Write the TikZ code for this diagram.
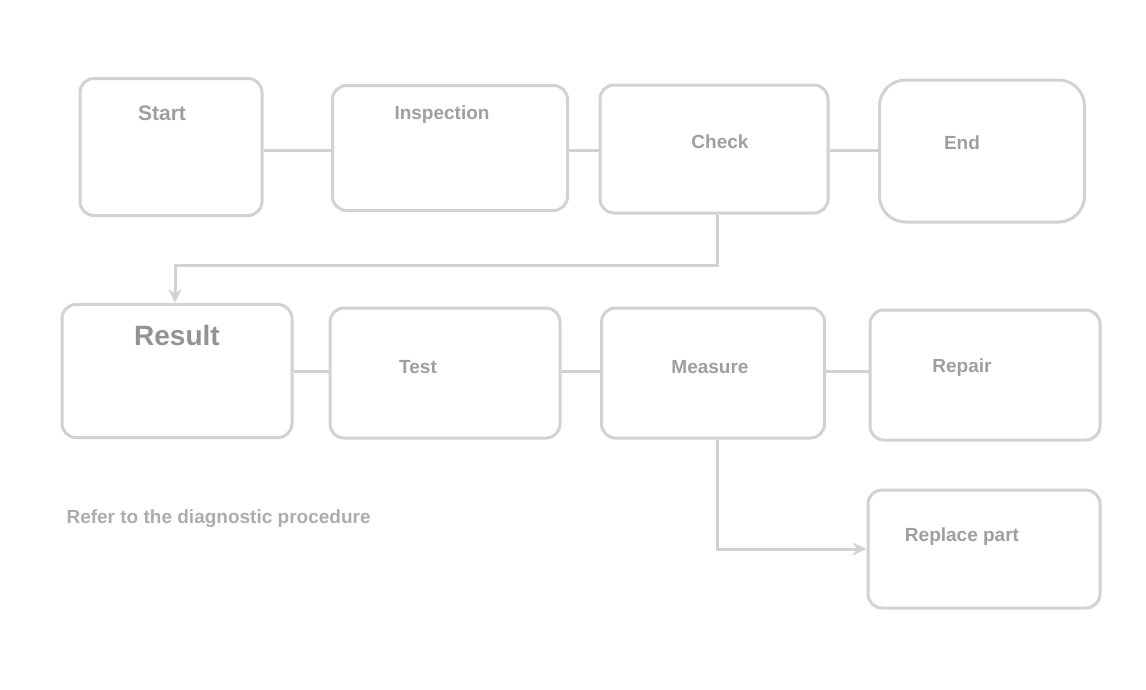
\documentclass[tikz,border=0pt]{standalone}
\usepackage{fontspec}
\setmainfont{Liberation Sans}
\usetikzlibrary{arrows.meta,positioning}
\begin{document}
\begin{tikzpicture}[x=1pt,y=-1pt,
  stepbox/.style={draw=gray!35,line width=3pt,rounded corners=14pt,fill=white,
    inner sep=0pt,minimum width=#1},
  stepbox/.default=200pt,
  lbl/.style={text=gray!75,font=\fontsize{19}{23}\selectfont\bfseries},
  conn/.style={draw=gray!35,line width=3pt,-{Stealth[length=14pt,width=13pt]}},
  plain/.style={draw=gray!35,line width=3pt}]
\useasboundingbox (0,0) rectangle (1146,689);
% row 1
\node[stepbox=182pt,minimum height=137pt] (a) at (171,147) {};
\node[lbl,anchor=north,font=\fontsize{21}{25}\selectfont\bfseries] (at) at (162,102) {Start};
\node[stepbox=235pt,minimum height=125pt] (b) at (450,148) {};
\node[lbl,anchor=north] (bt) at (442,102) {Inspection};
\node[stepbox=228pt,minimum height=128pt] (c) at (714,149) {};
\node[lbl] (ct) at (720,142) {Check};
\node[stepbox=205pt,minimum height=142pt,rounded corners=26pt] (d) at (982,151) {};
\node[lbl] (dt) at (962,143) {End};
% row 2
\node[stepbox=230pt,minimum height=133pt] (e) at (177,371) {};
\node[lbl,anchor=north,font=\fontsize{28}{32}\selectfont\bfseries,text=gray!85] (et) at (177,322) {Result};
\node[stepbox=230pt,minimum height=130pt] (f) at (445,373) {};
\node[lbl] (ft) at (418,367) {Test};
\node[stepbox=223pt,minimum height=130pt] (g) at (713,373) {};
\node[lbl] (gt) at (710,367) {Measure};
\node[stepbox=230pt,minimum height=130pt] (h) at (985,375) {};
\node[lbl] (ht) at (962,368) {Repair};
\node[stepbox=232pt,minimum height=118pt] (j) at (984,549) {};
\node[lbl] (jt) at (962,537) {Replace part};
% caption
\node[lbl,anchor=west,text=gray!65,font=\fontsize{19}{23}\selectfont\bfseries] (cap) at (63,519) {Refer to the diagnostic procedure};
% connectors
\coordinate (r1) at (0,150);
\coordinate (r2) at (0,371);
\draw[plain] (a.east |- r1) -- (b.west |- r1);
\draw[plain] (b.east |- r1) -- (c.west |- r1);
\draw[plain] (c.east |- r1) -- (d.west |- r1);
\coordinate (k1) at (717,265);
\coordinate (k2) at (175,265);
\draw[conn] (c.south -| k1) -- (k1) -- (k2) -- (e.north -| k2);
\draw[plain] (e.east |- r2) -- (f.west |- r2);
\draw[plain] (f.east |- r2) -- (g.west |- r2);
\draw[plain] (g.east |- r2) -- (h.west |- r2);
\coordinate (k3) at (717,549);
\draw[conn] (g.south -| k3) -- (k3) -- (j.west);
\end{tikzpicture}
\end{document}
